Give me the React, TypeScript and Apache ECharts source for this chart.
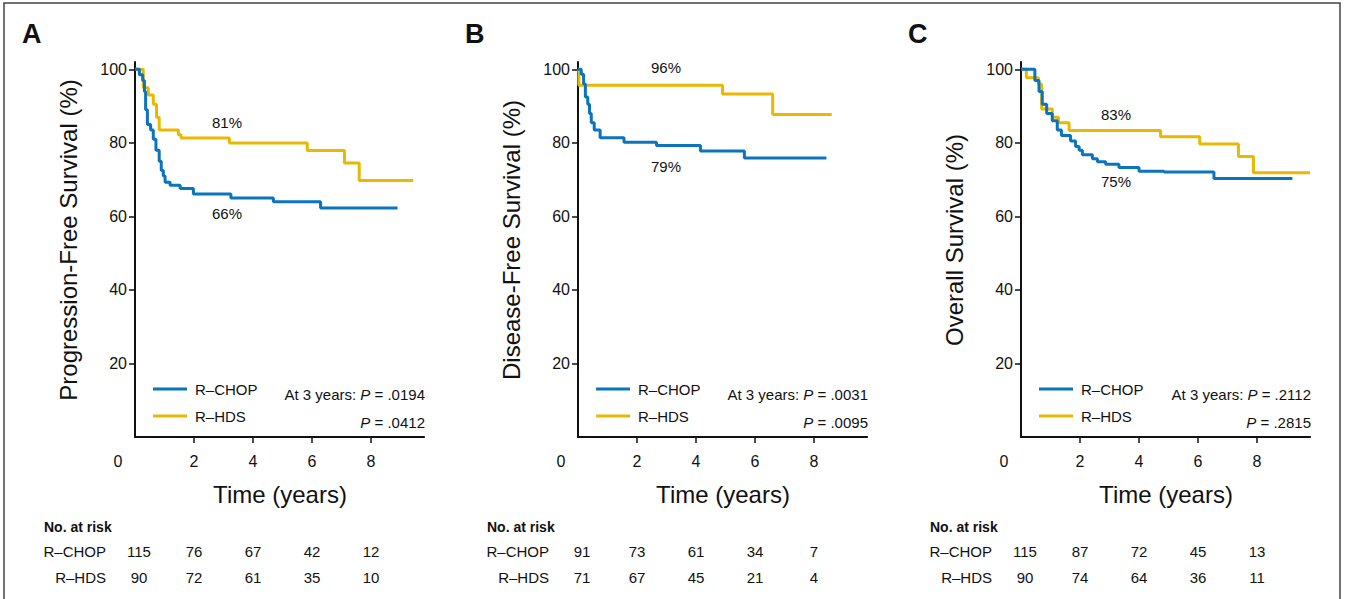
import * as echarts from 'echarts';
import React, { useEffect, useRef } from 'react';

// Kaplan-Meier steps: [years, survival %]
const pfsChop: number[][] = [
  [0, 100], [0.15, 98.5], [0.26, 97], [0.32, 94], [0.36, 89], [0.42, 85], [0.53, 83.5], [0.62, 81],
  [0.71, 78], [0.82, 75], [0.89, 72.5], [0.96, 71], [1.02, 69.3], [1.19, 68.5], [1.53, 67.6],
  [1.98, 66.1], [3.25, 65], [4.69, 64], [6.29, 62.3], [8.9, 62.3],
];
const pfsHds: number[][] = [
  [0, 100], [0.28, 95], [0.45, 93], [0.62, 90.5], [0.73, 87], [0.82, 83.5], [1.47, 82.2],
  [1.56, 81.3], [3.2, 80], [5.84, 77.9], [7.1, 74.5], [7.6, 69.8], [9.43, 69.8],
];
const dfsChop: number[][] = [
  [0, 100], [0.11, 98.7], [0.19, 96], [0.25, 92.5], [0.33, 90.5], [0.39, 88], [0.45, 85.5],
  [0.55, 83.5], [0.75, 81.4], [1.56, 80.2], [2.66, 79.3], [4.15, 77.8], [5.64, 75.9], [8.42, 75.9],
];
const dfsHds: number[][] = [[0, 100], [0.03, 95.7], [4.9, 93.3], [6.6, 87.7], [8.6, 87.7]];
const osChop: number[][] = [
  [0, 100], [0.47, 97], [0.61, 94], [0.72, 90.5], [0.87, 88], [1.06, 86], [1.23, 83.5], [1.37, 82],
  [1.68, 80.5], [1.85, 79], [1.97, 78], [2.08, 76.8], [2.42, 75.7], [2.59, 74.9], [2.87, 74.2],
  [3.32, 73.3], [4.0, 72.3], [4.85, 72.1], [6.54, 70.3], [9.2, 70.3],
];
const osHds: number[][] = [
  [0, 100], [0.18, 97.7], [0.59, 96], [0.7, 89.2], [1.06, 87], [1.27, 85.5], [1.63, 83.4],
  [4.73, 81.7], [6.06, 79.7], [7.37, 76.3], [7.88, 71.9], [9.8, 71.9],
];

const panelLetters = ['A', 'B', 'C'];
const yTitles = ['Progression-Free Survival (%)', 'Disease-Free Survival (%)', 'Overall Survival (%)'];
const threeYearLabels = [['81%', '66%'], ['96%', '79%'], ['83%', '75%']];
const pValues = [['.0194', '.0412'], ['.0031', '.0095'], ['.2112', '.2815']];
const riskTimes = [0, 2, 4, 6, 8];
const riskChop = [[115, 76, 67, 42, 12], [91, 73, 61, 34, 7], [115, 87, 72, 45, 13]];
const riskHds = [[90, 72, 61, 35, 10], [71, 67, 45, 21, 4], [90, 74, 64, 36, 11]];

const BLUE = '#0a74bd';
const YELLOW = '#e9b800';
const FONT = '"Liberation Sans", Arial, sans-serif';
const X_MAX = 9.8;
const PX_PER_YEAR = 29.5;
const axisLefts = [135, 578, 1021];
const GRID_TOP = 62;
const GRID_H = 375;

const App: React.FC = () => {
  const chartRef = useRef<HTMLDivElement>(null);

  useEffect(() => {
    document.body.style.margin = '0';
    if (!chartRef.current) return;
    const chart = echarts.init(chartRef.current, undefined, { renderer: 'svg' });

    const curves = [[pfsChop, pfsHds], [dfsChop, dfsHds], [osChop, osHds]];
    const graphic: any[] = [
      { type: 'rect', shape: { x: 4, y: 3, width: 1336, height: 620 }, style: { fill: 'none', stroke: '#444', lineWidth: 1.5 } },
    ];
    const txt = (x: number, y: number, text: string, opts: any = {}) =>
      graphic.push({
        type: 'text', x, y,
        style: { text, fill: '#111', font: `${opts.weight || 'normal'} ${opts.size || 15}px ${FONT}`, textAlign: opts.align || 'left', textVerticalAlign: 'middle' },
      });
    const pText = (x: number, y: number, text: string) =>
      graphic.push({
        type: 'text', x, y,
        style: {
          text, fill: '#111', font: `15px ${FONT}`, textAlign: 'right', textVerticalAlign: 'middle',
          rich: { i: { fontStyle: 'italic', fontSize: 15, fontFamily: FONT, fill: '#111' } },
        },
      });

    axisLefts.forEach((L, i) => {
      const o = L - 135;
      txt(22 + o, 34, panelLetters[i], { size: 27, weight: 'bold' });
      txt(L - 17, 461, '0', { size: 16, align: 'center' });
      txt(L + 145, 494, 'Time (years)', { size: 24, align: 'center' });
      graphic.push({
        type: 'text', x: L - 67, y: 240, rotation: Math.PI / 2,
        style: { text: yTitles[i], fill: '#111', font: `24px ${FONT}`, textAlign: 'center', textVerticalAlign: 'middle' },
      });
      // legend
      graphic.push({ type: 'line', shape: { x1: L + 18, y1: 389, x2: L + 52, y2: 389 }, style: { stroke: BLUE, lineWidth: 3 } });
      graphic.push({ type: 'line', shape: { x1: L + 18, y1: 416, x2: L + 52, y2: 416 }, style: { stroke: YELLOW, lineWidth: 3 } });
      txt(L + 60, 389, 'R–CHOP');
      txt(L + 60, 416, 'R–HDS');
      pText(L + 290, 394, `At 3 years: {i|P} = ${pValues[i][0]}`);
      pText(L + 290, 422, `{i|P} = ${pValues[i][1]}`);
      // risk table
      txt(o + 44, 527, 'No. at risk', { size: 14, weight: 'bold' });
      txt(o + 106, 551, 'R–CHOP', { align: 'right' });
      txt(o + 106, 577, 'R–HDS', { align: 'right' });
      riskTimes.forEach((t, k) => {
        const x = L + t * PX_PER_YEAR + (k === 0 ? 4 : 0);
        txt(x, 551, String(riskChop[i][k]), { align: 'center' });
        txt(x, 577, String(riskHds[i][k]), { align: 'center' });
      });
    });
    // three-year percentage labels
    const labelPos = [[[227, 122], [227, 213]], [[666, 67], [666, 166]], [[1116, 114], [1116, 181]]];
    labelPos.forEach((p, i) => {
      txt(p[0][0], p[0][1], threeYearLabels[i][0], { align: 'center' });
      txt(p[1][0], p[1][1], threeYearLabels[i][1], { align: 'center' });
    });

    const option: echarts.EChartsOption = {
      animation: false,
      textStyle: { fontFamily: FONT },
      grid: axisLefts.map((L) => ({ left: L, top: GRID_TOP, width: X_MAX * PX_PER_YEAR, height: GRID_H })),
      xAxis: axisLefts.map((_, i) => ({
        type: 'value', gridIndex: i, min: 0, max: X_MAX, interval: 2,
        axisLine: { show: true, lineStyle: { color: '#111', width: 2 } },
        axisTick: { show: true, length: 6, lineStyle: { color: '#111', width: 1.5 } },
        axisLabel: { showMinLabel: false, showMaxLabel: false, color: '#111', fontSize: 16, margin: 16 },
        splitLine: { show: false },
      })),
      yAxis: axisLefts.map((_, i) => ({
        type: 'value', gridIndex: i, min: 0, max: 102, interval: 20,
        axisLine: { show: true, lineStyle: { color: '#111', width: 2 } },
        axisTick: { show: true, length: 6, lineStyle: { color: '#111', width: 1.5 } },
        axisLabel: { showMinLabel: false, showMaxLabel: false, color: '#111', fontSize: 16, margin: 8 },
        splitLine: { show: false },
      })),
      series: curves.flatMap((pair, i) => [
        { type: 'line' as const, name: 'R–HDS', xAxisIndex: i, yAxisIndex: i, data: pair[1], step: 'end' as const, showSymbol: false, lineStyle: { color: YELLOW, width: 3 }, z: 2 },
        { type: 'line' as const, name: 'R–CHOP', xAxisIndex: i, yAxisIndex: i, data: pair[0], step: 'end' as const, showSymbol: false, lineStyle: { color: BLUE, width: 3 }, z: 3 },
      ]),
      graphic,
    };
    chart.setOption(option);
    return () => chart.dispose();
  }, []);

  return <div ref={chartRef} style={{ width: 1346, height: 599 }} />;
};

export default App;
